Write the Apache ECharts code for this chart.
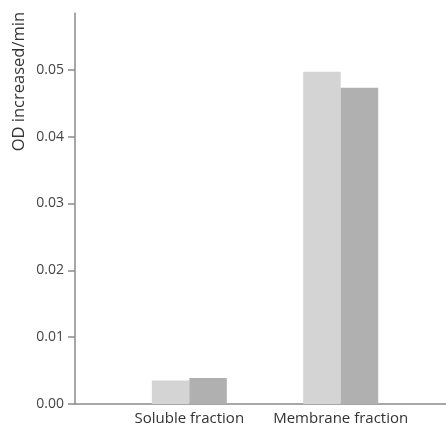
<!DOCTYPE html>
<html>
<head>
<meta charset="utf-8">
<script src="https://cdn.jsdelivr.net/npm/echarts@6/dist/echarts.min.js"></script>
<style>
  html, body { margin: 0; padding: 0; background: #fff; }
  #chart { width: 446px; height: 431px; }
</style>
</head>
<body>
<div id="chart"></div>
<script>
// Fractions and their positions on the x scale
const categories = ['Soluble fraction', 'Membrane fraction'];
const categoryPos = [1, 2];
// OD increase per minute, two measurements per fraction
const seriesA = [0.0035, 0.0497];
const seriesB = [0.0039, 0.0473];
// y axis labelled ticks
const yTicks = [0, 0.01, 0.02, 0.03, 0.04, 0.05];

const FONT = '"Open Sans", "Liberation Sans", sans-serif';
const AXIS_COLOR = '#8a8a8a';

const chart = echarts.init(document.getElementById('chart'), null, { renderer: 'canvas' });

chart.setOption({
  animation: false,
  backgroundColor: '#ffffff',
  grid: { left: 75, right: 0, top: 13, bottom: 27, containLabel: false },
  xAxis: {
    type: 'value',
    min: 0.245,
    max: 2.6955,
    axisLine: { show: true, onZero: false, lineStyle: { color: AXIS_COLOR, width: 1.5 } },
    axisTick: { show: false },
    splitLine: { show: false },
    axisLabel: {
      customValues: categoryPos,
      margin: 7,
      color: '#333',
      fontFamily: FONT,
      fontSize: 15,
      formatter: v => categories[categoryPos.indexOf(v)] || ''
    }
  },
  yAxis: {
    type: 'value',
    min: 0,
    max: 0.0585,
    interval: 0.01,
    axisLine: { show: true, lineStyle: { color: AXIS_COLOR, width: 1.5 } },
    axisTick: { show: true, length: 7, lineStyle: { color: AXIS_COLOR, width: 1.5 } },
    splitLine: { show: false },
    axisLabel: {
      showMaxLabel: false,
      margin: 11,
      color: '#444',
      fontFamily: FONT,
      fontSize: 14,
      formatter: v => (yTicks.indexOf(Math.round(v * 100) / 100) >= 0 ? v.toFixed(2) : '')
    }
  },
  series: [
    {
      type: 'bar',
      data: categoryPos.map((x, i) => [x, seriesA[i]]),
      barWidth: 37.5,
      barGap: '0%',
      itemStyle: { color: '#d4d4d4' }
    },
    {
      type: 'bar',
      data: categoryPos.map((x, i) => [x, seriesB[i]]),
      barWidth: 37.5,
      barGap: '0%',
      itemStyle: { color: '#b0b0b0' }
    }
  ],
  graphic: [
    {
      type: 'text',
      x: 19,
      y: 12,
      rotation: Math.PI / 2,
      style: {
        text: 'OD increased/min',
        align: 'right',
        verticalAlign: 'middle',
        fill: '#333',
        font: '16.5px ' + FONT
      }
    }
  ]
});
</script>
</body>
</html>
